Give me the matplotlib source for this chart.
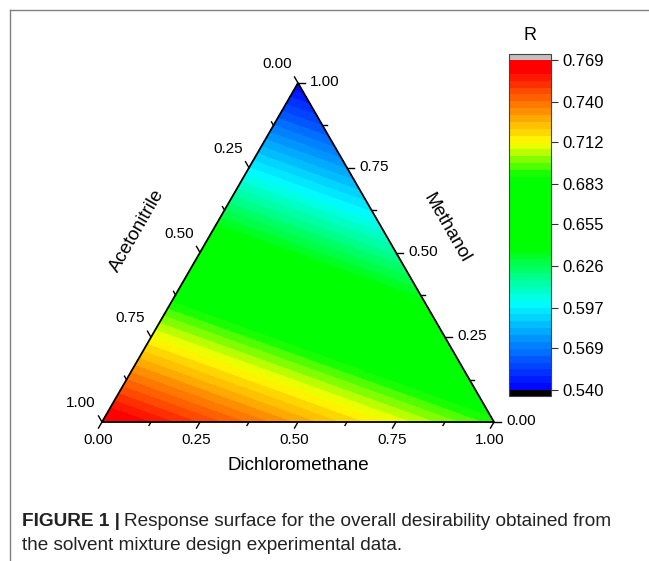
import numpy as np
import matplotlib
matplotlib.use("Agg")
import matplotlib.pyplot as plt
import matplotlib.tri as mtri
from matplotlib.colors import LinearSegmentedColormap
from matplotlib.lines import Line2D

plt.rcParams['font.family'] = ['Liberation Sans', 'DejaVu Sans']

# linear mixture model: response R at the pure-solvent vertices
components = ['Acetonitrile', 'Methanol', 'Dichloromethane']
vertex_R = [0.769, 0.540, 0.690]

r_min, r_max = 0.540, 0.769
n_levels = 48
cbar_ticks = [0.540, 0.569, 0.597, 0.626, 0.655, 0.683, 0.712, 0.740, 0.769]
cbar_labels = ['0.540', '0.569', '0.597', '0.626', '0.655', '0.683', '0.712', '0.740', '0.769']
axis_ticks = [0.0, 0.25, 0.50, 0.75, 1.00]
axis_labels = ['0.00', '0.25', '0.50', '0.75', '1.00']

# origin-like rainbow palette
pal_pos = [0.0, 0.264, 0.43, 0.645, 0.75, 0.97, 1.0]
pal_col = ['#0000ff', '#00ffff', '#00ff00', '#00ff00', '#ffff00', '#ff0000', '#ff0000']
cmap = LinearSegmentedColormap.from_list('origin', list(zip(pal_pos, pal_col)))
cmap.set_over('#c0c0c0')
cmap.set_under('black')

W, Hpx = 649, 561
fig = plt.figure(figsize=(W / 100, Hpx / 100), dpi=100)

# triangle: bottom-left (102,422), bottom-right (494,422), top (298,83) in pixels
H = np.sqrt(3) / 2
ax = fig.add_axes([102 / W, (Hpx - 422) / Hpx, 392 / W, 339 / Hpx])
ax.set_xlim(0, 1)
ax.set_ylim(0, H)
ax.axis('off')
px = 1 / 392.0  # one pixel in data units


def to_xy(M, D):
    return D + M / 2, M * H


# grid over the simplex
n = 90
ii, jj = np.meshgrid(np.arange(n + 1), np.arange(n + 1))
keep = ii + jj <= n
M = ii[keep] / n
D = jj[keep] / n
A = 1 - M - D
R = vertex_R[0] * A + vertex_R[1] * M + vertex_R[2] * D
x, y = to_xy(M, D)
tri = mtri.Triangulation(x, y)

levels = np.linspace(r_min, r_max, n_levels + 1)
cs = ax.tricontourf(tri, R, levels=levels, cmap=cmap, extend='both')

ax.plot([0, 1, 0.5, 0], [0, 0, H, 0], color='k', lw=1.3, clip_on=False,
        solid_joinstyle='miter')

# ticks along constant-composition lines
for k in range(9):
    t = k * 0.125
    L = (7 if k % 2 == 0 else 4) * px
    # bottom: Dichloromethane
    bx, by = to_xy(0, t)
    ax.plot([bx, bx - 0.5 * L], [by, by - H * L], color='k', lw=1, clip_on=False)
    # left: Acetonitrile
    lx, ly = to_xy(1 - t, 0)
    ax.plot([lx, lx - 0.5 * L], [ly, ly + H * L], color='k', lw=1, clip_on=False)
    # right: Methanol
    rx, ry = to_xy(t, 1 - t)
    ax.plot([rx, rx + L], [ry, ry], color='k', lw=1, clip_on=False)

for t, lab in zip(axis_ticks, axis_labels):
    bx, by = to_xy(0, t)
    ax.text(bx - 4 * px, by - 18 * px, lab, ha='center', va='center', fontsize=11)
    lx, ly = to_xy(1 - t, 0)
    ax.text(lx - 21 * px, ly + 19 * px, lab, ha='center', va='center', fontsize=11)
    rx, ry = to_xy(t, 1 - t)
    ax.text(rx + 12 * px, ry + 1 * px, lab, ha='left', va='center', fontsize=11)

ax.text(0.5, -44 * px, components[2], ha='center', va='center', fontsize=13.5)
ax.text(35 * px, 192 * px, components[0], ha='center', va='center', fontsize=13.5,
        rotation=60, rotation_mode='anchor')
ax.text(345 * px, 194 * px, components[1], ha='center', va='center', fontsize=13.5,
        rotation=-60, rotation_mode='anchor')

# colour scale (axes box includes the over/under boxes)
cax = fig.add_axes([509 / W, (Hpx - 396) / Hpx, 42 / W, 342 / Hpx])
cb = fig.colorbar(cs, cax=cax, extend='both', extendrect=True, extendfrac=6 / 330)
cb.set_ticks(cbar_ticks, labels=cbar_labels)
cb.minorticks_off()
cb.ax.tick_params(labelsize=12, length=5, width=0.8, color='#333333', pad=3)
cb.outline.set_linewidth(0.8)
cb.outline.set_edgecolor('#444444')
fig.text(530 / W, 1 - 35 / Hpx, 'R', ha='center', va='center', fontsize=13)

# frame lines of the figure panel
fig.add_artist(Line2D([10 / W, 1], [1 - 10 / Hpx] * 2, transform=fig.transFigure,
                      color='#808080', lw=1))
fig.add_artist(Line2D([10 / W, 10 / W], [0, 1 - 10 / Hpx], transform=fig.transFigure,
                      color='#808080', lw=1))

# caption
cap_size = 13.7
t1 = fig.text(22 / W, 1 - 521 / Hpx, 'FIGURE 1 |', fontsize=cap_size, weight='bold',
              va='center', color='#222222')
fig.canvas.draw()
bb = t1.get_window_extent(fig.canvas.get_renderer())
fig.text(bb.x1 / W + 4 / W, 1 - 521 / Hpx,
         'Response surface for the overall desirability obtained from',
         fontsize=cap_size, va='center', color='#222222')
fig.text(22 / W, 1 - 546 / Hpx, 'the solvent mixture design experimental data.',
         fontsize=cap_size, va='center', color='#222222')

fig.savefig('out.png', dpi=100)
